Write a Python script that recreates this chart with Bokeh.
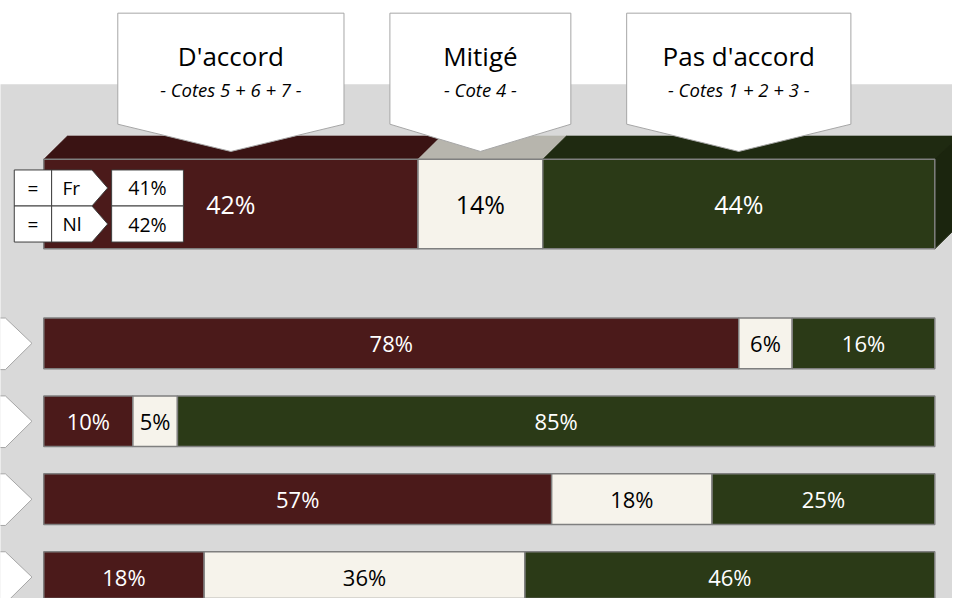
from bokeh.plotting import figure
from bokeh.models import Range1d, ColumnDataSource
from bokeh.embed import file_html
from bokeh.resources import INLINE
from bokeh.core.properties import value

# ---------------- data ----------------
categories = ["D'accord", "Mitigé", "Pas d'accord"]
subtitles = ["- Cotes 5 + 6 + 7 -", "- Cote 4 -", "- Cotes 1 + 2 + 3 -"]
total_values = [42, 14, 44]
region_signs = ["=", "="]
region_labels = ["Fr", "Nl"]
region_values = [41, 42]
row_accord = [78, 10, 57, 18]
row_mitige = [6, 5, 18, 36]
row_pas = [16, 85, 25, 46]

# ---------------- layout / style ----------------
W, H = 952, 598              # figure size (fits the 968x614 window with 8px margin)
REF_W, REF_H = 968, 614      # design canvas
X0_PX = 44                   # canvas pixel of 0 %
PX_PER_PCT = 9.06


def X(px):
    return (px - X0_PX) / PX_PER_PCT


def DX(px):
    return px / PX_PER_PCT


FRONT = ["#4b1a1a", "#f6f3eb", "#2b3a17"]
TOPF = ["#3a1313", "#b7b5ad", "#1f2a11"]
SIDE = "#1b250e"
TXT = ["white", "black", "white"]
EDGE = "#7f7f7f"
BG = "#d9d9d9"
FONT = value("Open Sans")

p = figure(width=W, height=H, output_backend="svg", toolbar_location=None,
           x_range=Range1d(X(0), X(REF_W)), y_range=Range1d(REF_H, 0),
           min_border=0, outline_line_color=None,
           background_fill_color="white", border_fill_color="white")
p.axis.visible = False
p.grid.visible = False

# gray panel
p.quad(left=X(-10), right=X(980), top=86, bottom=620, fill_color=BG, line_color=None)


def cum(vals):
    lefts, rights, s = [], [], 0
    for v in vals:
        lefts.append(s)
        s += v
        rights.append(s)
    return lefts, rights


# ---------------- 3D total bar ----------------
FT, FB, DEP = 163, 255, 24
tl, tr = cum(total_values)
xs_top, ys_top = [], []
for l, r in zip(tl, tr):
    xs_top.append([l, r, r + DX(DEP), l + DX(DEP)])
    ys_top.append([FT, FT, FT - DEP, FT - DEP])
p.patches(xs_top, ys_top, fill_color=TOPF, line_color=TOPF, line_width=0.5)
p.patch([tr[-1], tr[-1] + DX(DEP), tr[-1] + DX(DEP), tr[-1]],
        [FT, FT - DEP, FB - DEP, FB], fill_color=SIDE, line_color=SIDE)
p.hbar(y=(FT + FB) / 2, height=FB - FT, left=tl, right=tr, fill_color=FRONT,
       line_color=EDGE, line_width=1.5)
p.text(x=[(l + r) / 2 for l, r in zip(tl, tr)], y=[(FT + FB) / 2] * 3,
       text=[f"{v}%" for v in total_values], text_color=TXT, text_font=FONT,
       text_font_size="25px", text_align="center", text_baseline="middle")

# ---------------- callouts ----------------
half_w = [115, 92, 114]
BT, BB, TIP = 13, 127, 155
cxs = [(l + r) / 2 for l, r in zip(tl, tr)]
cx_p, cy_p = [], []
for cx, hw in zip(cxs, half_w):
    cx_p.append([cx - DX(hw), cx + DX(hw), cx + DX(hw), cx, cx - DX(hw)])
    cy_p.append([BT, BT, BB, TIP, BB])
p.patches(cx_p, cy_p, fill_color="white", line_color="#a6a6a6", line_width=1)
p.text(x=cxs, y=[57] * 3, text=categories, text_font=FONT, text_font_size="26px",
       text_color="black", text_align="center", text_baseline="middle")
p.text(x=cxs, y=[91] * 3, text=subtitles, text_font=FONT, text_font_size="18.5px",
       text_font_style="italic", text_color="black", text_align="center",
       text_baseline="middle")

# ---------------- Fr / Nl table ----------------
RT = [174, 211]
RB = [211, 248]
TL = "#3f3f3f"
p.quad(left=X(14), right=X(52), top=RT, bottom=RB, fill_color="white",
       line_color=TL, line_width=1)
ax, ay = [], []
for t, b in zip(RT, RB):
    ax.append([X(52), X(93), X(109), X(93), X(52)])
    ay.append([t, t, (t + b) / 2, b, b])
p.patches(ax, ay, fill_color="white", line_color=TL, line_width=1)
p.quad(left=X(113), right=X(186), top=RT, bottom=RB, fill_color="white",
       line_color=TL, line_width=1)
rc = [(t + b) / 2 for t, b in zip(RT, RB)]
p.text(x=[X(33)] * 2, y=rc, text=region_signs, text_font=FONT, text_font_size="19px",
       text_color="black", text_align="center", text_baseline="middle")
p.text(x=[X(63)] * 2, y=rc, text=region_labels, text_font=FONT, text_font_size="19px",
       text_color="black", text_align="left", text_baseline="middle")
p.text(x=[X(149.5)] * 2, y=rc, text=[f"{v}%" for v in region_values], text_font=FONT,
       text_font_size="19.5px", text_color="black", text_align="center",
       text_baseline="middle")

# ---------------- row bars ----------------
ROW0, STEP, BH = 352, 80, 52
rows_y = [ROW0 + i * STEP for i in range(len(row_accord))]
seg_l, seg_r, seg_y, seg_c, seg_t, seg_tc = [], [], [], [], [], []
for i, y in enumerate(rows_y):
    vals = [row_accord[i], row_mitige[i], row_pas[i]]
    ls, rs = cum(vals)
    for k in range(3):
        seg_l.append(ls[k])
        seg_r.append(rs[k])
        seg_y.append(y)
        seg_c.append(FRONT[k])
        seg_t.append(f"{vals[k]}%")
        seg_tc.append(TXT[k])
src = ColumnDataSource(dict(l=seg_l, r=seg_r, y=seg_y, c=seg_c, t=seg_t, tc=seg_tc,
                            m=[(a + b) / 2 for a, b in zip(seg_l, seg_r)]))
p.hbar(y="y", left="l", right="r", height=BH, fill_color="c", line_color=EDGE,
       line_width=1.5, source=src)
p.text(x="m", y="y", text="t", text_color="tc", text_font=FONT, text_font_size="22px",
       text_align="center", text_baseline="middle", source=src)

# row markers (chevrons)
mx, my = [], []
for y in rows_y:
    mx.append([X(-10), X(5), X(32), X(5), X(-10)])
    my.append([y - 26, y - 26, y, y + 27, y + 27])
p.patches(mx, my, fill_color="white", line_color="#a6a6a6", line_width=1)

open("out.html", "w").write(file_html(p, INLINE))
